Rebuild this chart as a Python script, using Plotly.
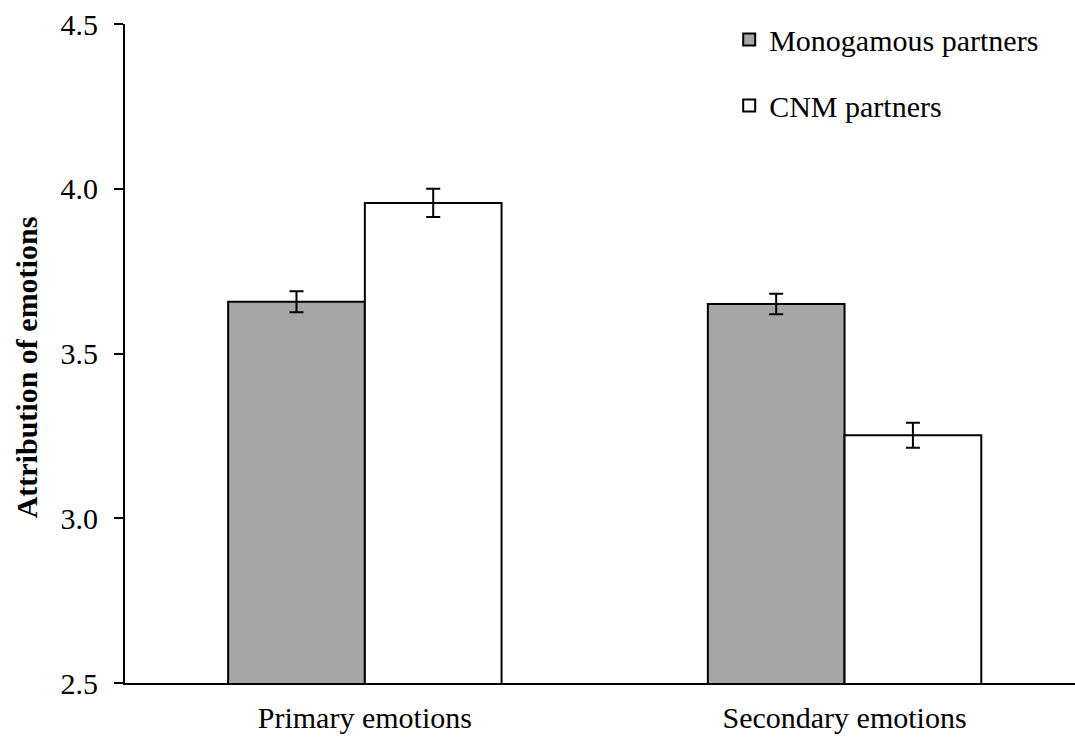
import plotly.graph_objects as go

categories = ["Primary emotions", "Secondary emotions"]
series_names = ["Monogamous partners", "CNM partners"]
mono_values = [3.657, 3.650]
mono_errors = [0.032, 0.031]
cnm_values = [3.957, 3.252]
cnm_errors = [0.043, 0.038]
y_ticks = [2.5, 3.0, 3.5, 4.0, 4.5]
y_tick_labels = ["2.5", "3.0", "3.5", "4.0", "4.5"]
y_title = "Attribution of emotions"

FONT = "Liberation Serif, Times New Roman, serif"

fig = go.Figure()
fig.add_trace(go.Bar(
    x=categories, y=mono_values, name=series_names[0],
    marker=dict(color="#a6a6a6", line=dict(color="black", width=2)),
    error_y=dict(type="data", array=mono_errors, color="black", thickness=2, width=7),
    legendgroup="a",
))
fig.add_trace(go.Bar(
    x=categories, y=cnm_values, name=series_names[1],
    marker=dict(color="white", line=dict(color="black", width=2)),
    error_y=dict(type="data", array=cnm_errors, color="black", thickness=2, width=7),
    legendgroup="b",
))

fig.update_layout(
    width=1075, height=738,
    margin=dict(l=125, r=0, t=24, b=55),
    paper_bgcolor="white", plot_bgcolor="white",
    font=dict(family=FONT, size=30, color="black"),
    barmode="group", bargap=0.43, bargroupgap=0,
    showlegend=True,
    legend=dict(x=0.636, y=1.016, xanchor="left", yanchor="top",
                font=dict(size=30), traceorder="grouped", tracegroupgap=24,
                bgcolor="rgba(0,0,0,0)", itemwidth=30),
    xaxis=dict(range=[-0.5, 1.4804], showline=True, linecolor="black", linewidth=2,
               ticks="", tickfont=dict(size=30), showgrid=False, zeroline=False,
               ticklabelstandoff=7),
    yaxis=dict(range=[2.5, 4.5], tickvals=y_ticks, ticktext=y_tick_labels,
               showline=True, linecolor="black", linewidth=2,
               ticks="outside", ticklen=9, tickwidth=2, tickcolor="black",
               showgrid=False, zeroline=False, tickfont=dict(size=30),
               ticklabelstandoff=10),
    annotations=[dict(text="<b>" + y_title + "</b>", textangle=-90,
                      xref="paper", yref="paper", x=-0.1042, y=0.479,
                      xanchor="center", yanchor="middle", showarrow=False,
                      font=dict(size=30))],
)

fig.write_html("out.html", config={"displayModeBar": False},
               post_script="document.body.style.margin='0px';document.body.style.overflow='hidden';")
